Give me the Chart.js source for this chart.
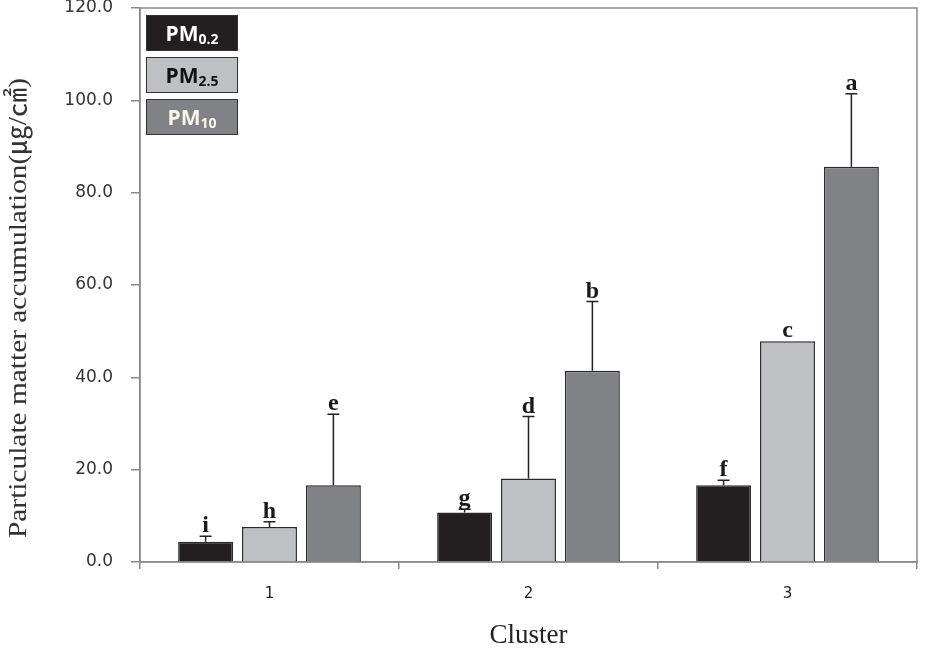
<!DOCTYPE html>
<html>
<head>
<meta charset="utf-8">
<script src="https://cdn.jsdelivr.net/npm/chart.js@4.4.1/dist/chart.umd.min.js"></script>
<style>
  html, body { margin: 0; padding: 0; background: #fff; }
  #wrap { position: relative; width: 925px; height: 656px; }
  #legend { position: absolute; left: 146px; top: 15px; }
  .item {
    width: 90px; height: 34px; margin-bottom: 6px;
    border: 1.5px solid #333; box-sizing: content-box;
    font: bold 21px "Open Sans", "Liberation Sans", sans-serif;
    display: flex; align-items: center; justify-content: center;
  }
  .item sub { font-size: 14px; position: relative; top: 6px; vertical-align: baseline; line-height: 0; }
</style>
</head>
<body>
<div id="wrap">
  <canvas id="chart" width="925" height="656"></canvas>
  <div id="legend"></div>
</div>
<script>
const clusters = ["1", "2", "3"];
const seriesLabels = ["PM0.2", "PM2.5", "PM10"];
const pm02 = [4.4, 10.7, 16.6];
const pm25 = [7.6, 18.1, 47.8];
const pm10 = [16.6, 41.4, 85.6];
const pm02Err = [1.2, 0.7, 1.1];
const pm25Err = [1.1, 13.4, 0];
const pm10Err = [15.4, 15.0, 15.8];
const pm02Sig = ["i", "g", "f"];
const pm25Sig = ["h", "d", "c"];
const pm10Sig = ["e", "b", "a"];
const yTicks = [0, 20, 40, 60, 80, 100, 120];
const yTitle = "Particulate matter accumulation(㎍/㎠)";

const fillColors = ["#231f20", "#bfc0c3", "#818285"];
const textColors = ["#ffffff", "#111111", "#fbf6ea"];
const errors = [pm02Err, pm25Err, pm10Err];
const letters = [pm02Sig, pm25Sig, pm10Sig];
const axisGray = "#8a8a8a";

// legend boxes with subscripts
const legendEl = document.getElementById("legend");
seriesLabels.forEach((label, i) => {
  const div = document.createElement("div");
  div.className = "item";
  div.style.background = fillColors[i];
  div.style.color = textColors[i];
  div.innerHTML = "PM<sub>" + label.slice(2) + "</sub>";
  legendEl.appendChild(div);
});

const frame = {
  id: "frame",
  beforeDatasetsDraw(chart) {
    const { ctx, chartArea: a } = chart;
    ctx.save();
    ctx.strokeStyle = axisGray;
    ctx.lineWidth = 1.5;
    ctx.strokeRect(a.left, a.top, a.right - a.left, a.bottom - a.top);
    ctx.restore();
  }
};

// y title drawn by hand: the original is a bit stretched along its length
const yTitlePlugin = {
  id: "yTitle",
  afterDraw(chart) {
    const { ctx } = chart;
    ctx.save();
    ctx.font = "26px 'Liberation Serif', 'Noto Sans CJK KR', serif";
    ctx.fillStyle = "#333";
    ctx.textAlign = "center";
    ctx.textBaseline = "alphabetic";
    const w = ctx.measureText(yTitle).width;
    ctx.translate(26, 308);
    ctx.rotate(-Math.PI / 2);
    ctx.scale(460 / w, 1);
    ctx.fillText(yTitle, 0, 0);
    ctx.restore();
  }
};

const errorBars = {
  id: "errorBars",
  afterDatasetsDraw(chart) {
    const { ctx } = chart;
    const y = chart.scales.y;
    ctx.save();
    chart.data.datasets.forEach((ds, i) => {
      const meta = chart.getDatasetMeta(i);
      meta.data.forEach((bar, j) => {
        const err = errors[i][j];
        const top = bar.y;
        const capY = y.getPixelForValue(ds.data[j] + err);
        ctx.strokeStyle = "#222";
        ctx.lineWidth = 1.5;
        if (err > 0) {
          ctx.beginPath();
          ctx.moveTo(bar.x, top);
          ctx.lineTo(bar.x, capY);
          ctx.moveTo(bar.x - 6, capY);
          ctx.lineTo(bar.x + 6, capY);
          ctx.stroke();
        }
        ctx.fillStyle = "#1a1a1a";
        ctx.font = "bold 24px 'Liberation Serif', 'DejaVu Serif', serif";
        ctx.textAlign = "center";
        ctx.textBaseline = "alphabetic";
        ctx.fillText(letters[i][j], bar.x, capY - 4);
      });
    });
    ctx.restore();
  }
};

new Chart(document.getElementById("chart"), {
  type: "bar",
  data: {
    labels: clusters,
    datasets: [
      { label: seriesLabels[0], data: pm02 },
      { label: seriesLabels[1], data: pm25 },
      { label: seriesLabels[2], data: pm10 }
    ].map((ds, i) => ({
      ...ds,
      backgroundColor: fillColors[i],
      borderColor: "#2a2a2a",
      borderWidth: 1.5,
      barPercentage: 0.86,
      categoryPercentage: 0.74
    }))
  },
  options: {
    responsive: false,
    animation: false,
    layout: { padding: { top: 8, right: 8, left: 0, bottom: 0 } },
    plugins: { legend: { display: false }, tooltip: { enabled: false } },
    scales: {
      x: {
        afterFit: s => { s.height = 94; s.paddingLeft = 0; s.paddingRight = 0; },
        grid: { display: true, drawOnChartArea: false, offset: true, tickLength: 7, color: axisGray, lineWidth: 1.5 },
        border: { color: axisGray, width: 1.5 },
        ticks: { color: "#222", padding: 16, font: { family: "DejaVu Sans", size: 15 } },
        title: {
          display: true, text: "Cluster", color: "#222",
          font: { family: "Liberation Serif", size: 27 },
          padding: { top: 14, bottom: 4 }
        }
      },
      y: {
        min: 0,
        max: 120,
        afterFit: s => { s.width = 140; s.paddingTop = 0; s.paddingBottom = 0; },
        afterBuildTicks: s => { s.ticks = yTicks.map(v => ({ value: v })); },
        grid: { display: true, drawOnChartArea: false, tickLength: 9, color: axisGray, lineWidth: 1.5 },
        border: { color: axisGray, width: 1.5 },
        ticks: {
          color: "#333", padding: 18,
          font: { family: "DejaVu Sans", size: 17 },
          callback: v => Number(v).toFixed(1)
        },
        title: { display: false }
      }
    }
  },
  plugins: [frame, errorBars, yTitlePlugin]
});
</script>
</body>
</html>
